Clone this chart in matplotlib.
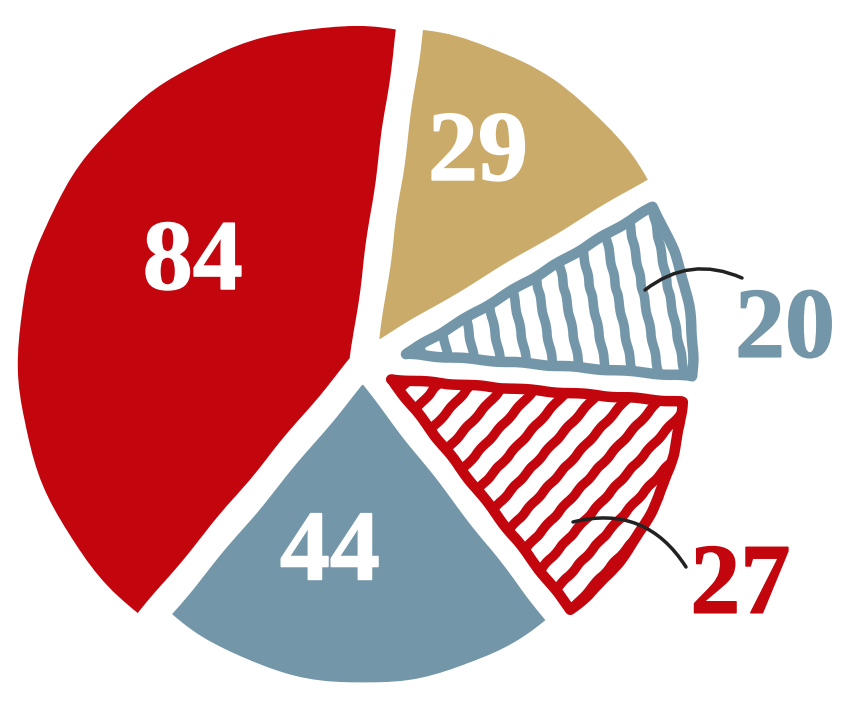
import matplotlib
matplotlib.use("Agg")
import matplotlib.pyplot as plt
import matplotlib.patheffects as pe
import numpy as np

# ---- data ----
labels = ["29", "20", "27", "44", "84"]
values = [29, 20, 27, 44, 84]

# ---- style ----
W, H, DPI = 843, 703, 180
RED = "#C3060E"
TAN = "#CAAB69"
BLUE = "#7397A9"
colors = [TAN, BLUE, RED, BLUE, RED]
striped = [False, True, True, False, False]
stripe_angle = [0, 101, 48, 0, 0]      # degrees
stripe_gap = [0, 25.5, 25, 0, 0]       # px, perpendicular spacing
explode_px = [30, 44, 32, 21, 14]
radii = [312, 287, 292, 298, 332]
label_r = [217, 422, 452, 218, 186]
label_da = [1.6, -12.2, -5.1, -7.8, 0.1]
label_inside = [True, False, False, True, True]
cx, cy = 363, 339

fig = plt.figure(figsize=(W / DPI, H / DPI), dpi=DPI)
ax = fig.add_axes([0, 0, 1, 1])

wedges, _ = ax.pie(values, startangle=82, counterclock=False, radius=300,
                   center=(cx, cy), explode=explode_px, colors=colors)
ax.set_xlim(0, W)
ax.set_ylim(0, H)
ax.set_aspect("equal")
ax.axis("off")

for i, w in enumerate(wedges):
    w.set_radius(radii[i])
    if striped[i]:
        w.set_facecolor("white")
        w.set_edgecolor(colors[i])
        w.set_linewidth(4.2)
        w.set_joinstyle("round")
        w.set_sketch_params(scale=0.6, length=60, randomness=2)
        # hand-drawn stripes clipped to the wedge
        verts = w.get_path().vertices
        c = verts.mean(axis=0)
        a = np.deg2rad(stripe_angle[i])
        d = np.array([np.cos(a), np.sin(a)])
        n = np.array([-np.sin(a), np.cos(a)])
        L = 700
        for k in range(-30, 31):
            p = c + k * stripe_gap[i] * n
            seg = np.array([p - L * d, p + L * d])
            ln, = ax.plot(seg[:, 0], seg[:, 1], color=colors[i], lw=3.8,
                          solid_capstyle="butt", zorder=w.get_zorder() + 0.1)
            ln.set_clip_path(w)
            ln.set_sketch_params(scale=0.5, length=30, randomness=2)
    else:
        w.set_linewidth(0)
        w.set_sketch_params(scale=0.6, length=120, randomness=2)

    mid = np.deg2rad((w.theta1 + w.theta2) / 2 + label_da[i])
    x = cx + label_r[i] * np.cos(mid)
    y = cy + label_r[i] * np.sin(mid)
    col = "white" if label_inside[i] else colors[i]
    ax.text(x, y, labels[i], ha="center", va="baseline", color=col,
            fontsize=40, fontweight="bold", family="Liberation Serif", zorder=5,
            path_effects=[pe.withStroke(linewidth=0.6, foreground=col)])

# connector lines for outside labels
ax.annotate("", xy=(645, 413), xytext=(742, 425),
            arrowprops=dict(arrowstyle="-", color="#222222", lw=1.4,
                            connectionstyle="arc3,rad=0.3", shrinkA=0, shrinkB=0),
            zorder=6)
ax.annotate("", xy=(573, 181), xytext=(686, 136),
            arrowprops=dict(arrowstyle="-", color="#222222", lw=1.4,
                            connectionstyle="arc3,rad=0.36", shrinkA=0, shrinkB=0),
            zorder=6)

fig.savefig("out.png", dpi=DPI)
